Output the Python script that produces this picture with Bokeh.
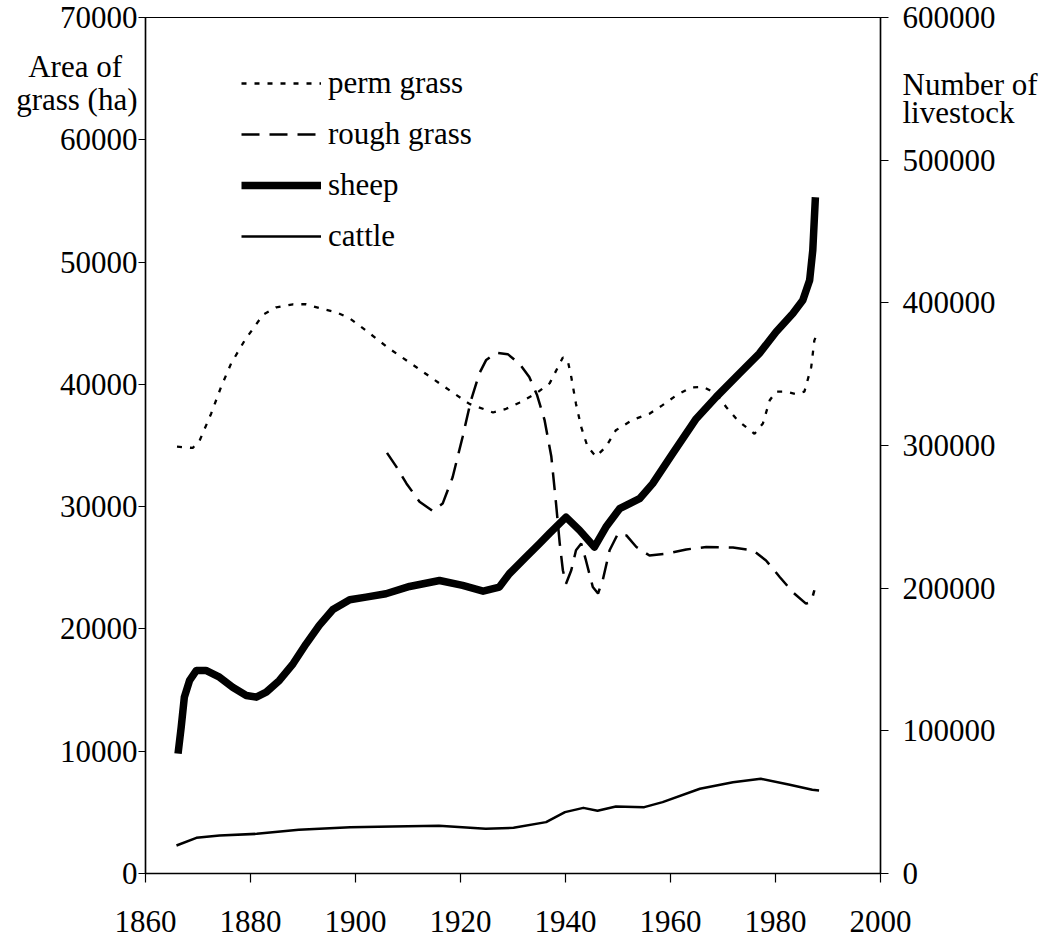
from bokeh.plotting import figure
from bokeh.models import (Range1d, LinearAxis, FixedTicker, NumeralTickFormatter,
                          Legend, LegendItem)
from bokeh.embed import file_html
from bokeh.resources import INLINE

# ---------------- data ----------------
x_ticks = [1860, 1880, 1900, 1920, 1940, 1960, 1980, 2000]
left_ticks = [0, 10000, 20000, 30000, 40000, 50000, 60000, 70000]
right_ticks = [0, 100000, 200000, 300000, 400000, 500000, 600000]

perm_years = [1866.0, 1869.0, 1870.3, 1872.5, 1874.4, 1876.3, 1878.9, 1882.4, 1884.9,
              1888.1, 1890.6, 1893.8, 1896.3, 1898.9, 1901.4, 1906.5, 1911.6, 1916.6,
              1921.7, 1926.2, 1928.7, 1931.2, 1934.4, 1937.0, 1939.5, 1940.4, 1941.1,
              1942.0, 1943.0, 1944.2, 1945.8, 1947.7, 1949.6, 1952.8, 1956.0, 1958.5,
              1961.1, 1963.9, 1966.2, 1968.7, 1970.6, 1972.8, 1976.0, 1977.6, 1978.9,
              1980.1, 1982.0, 1983.9, 1985.5, 1986.8, 1987.4, 1988.1]
perm_grass = [34900, 34800, 35400, 37600, 39800, 41700, 43600, 45700, 46300,
              46550, 46550, 46150, 45900, 45400, 44600, 42900, 41400, 39900,
              38400, 37700, 38000, 38500, 39250, 40100, 42200, 42000, 40600,
              38400, 36500, 34900, 34100, 34900, 36250, 37100, 37600, 38300,
              39100, 39750, 39800, 39250, 38150, 37050, 35950, 36800, 38700,
              39400, 39400, 39200, 39400, 41400, 43600, 44300]

rough_years = [1906.0, 1907.8, 1909.7, 1912.2, 1914.7, 1916.6, 1918.5, 1920.4, 1922.0,
               1923.6, 1924.9, 1926.8, 1929.0, 1931.2, 1933.1, 1934.6, 1936.0, 1937.3,
               1938.2, 1938.9, 1939.5, 1940.1, 1941.1, 1942.0, 1943.0, 1943.9, 1945.2,
               1946.2, 1947.1, 1948.4, 1950.0, 1951.6, 1953.5, 1956.0, 1959.2, 1963.0,
               1966.8, 1971.9, 1975.7, 1978.2, 1980.8, 1983.3, 1985.8, 1986.8, 1987.4]
rough_grass = [34400, 33250, 31900, 30400, 29650, 30250, 32400, 35700, 38700,
               40900, 42000, 42580, 42470, 41700, 40600, 39100, 37100, 34100,
               30250, 27000, 24800, 23700, 24800, 26430, 26980, 25600, 23430,
               22900, 24000, 26430, 27800, 27650, 26700, 26000, 26150, 26500,
               26700, 26650, 26430, 25600, 24250, 23000, 22070, 22200, 23160]

sheep_years = [1866.2, 1866.8, 1867.4, 1868.4, 1869.7, 1871.5, 1874.1, 1876.6, 1879.2,
               1881.1, 1883.0, 1885.5, 1888.1, 1890.6, 1893.1, 1895.7, 1898.9, 1902.0,
               1905.8, 1910.3, 1916.0, 1920.4, 1924.3, 1927.4, 1929.3, 1932.5, 1935.0,
               1937.0, 1940.1, 1942.7, 1945.5, 1947.7, 1950.3, 1954.1, 1956.6, 1960.4,
               1964.9, 1968.7, 1973.1, 1976.9, 1980.1, 1983.3, 1985.2, 1986.5, 1987.1,
               1987.6]
sheep = [84000, 102600, 123600, 135300, 142300, 142300, 137600, 130600, 124800,
         123600, 127100, 135300, 147000, 161000, 173900, 185000, 191900, 193700,
         196100, 201200, 205400, 201900, 197900, 200800, 210100, 222000, 231000,
         238500, 249800, 240500, 228800, 242800, 255700, 262700, 273300, 294300,
         318800, 334000, 350400, 364400, 379600, 392500, 401800, 415800, 436800,
         474000]

cattle_years = [1865.9, 1869.7, 1874.1, 1881.2, 1889.2, 1899.0, 1907.0, 1915.9, 1924.8,
                1930.1, 1936.3, 1939.9, 1943.4, 1946.1, 1949.6, 1955.0, 1958.5, 1965.6,
                1971.9, 1977.2, 1982.5, 1987.0, 1988.3]
cattle = [19600, 25000, 26600, 27800, 30600, 32500, 33000, 33400, 31300,
          32000, 36000, 43000, 46000, 44000, 47000, 46500, 50000, 59400,
          64000, 66400, 62400, 58700, 58200]

series_labels = ["perm grass", "rough grass", "sheep", "cattle"]
left_title = ["Area of", "grass (ha)"]
right_title = ["Number of", "livestock"]

# ---------------- figure ----------------
FONT = "Liberation Serif"
FS = "31px"
NBSP = "\u00a0"

# vertical spots (in each axis' units) where the two-line axis titles sit
LEFT_TITLE_AT = [65960, 63260]
RIGHT_TITLE_AT = [553000, 533400]

p = figure(width=1051, height=945, output_backend="svg", toolbar_location=None,
           x_range=Range1d(1860, 2000), y_range=Range1d(0, 70000),
           y_axis_location=None,
           min_border_left=145, min_border_right=171, min_border_top=17,
           min_border_bottom=72)
p.extra_y_ranges = {"right": Range1d(0, 600000)}
p.xgrid.visible = False
p.ygrid.visible = False
p.outline_line_color = "black"
p.outline_line_width = 1.2
p.background_fill_color = "white"
p.border_fill_color = "white"


def style(ax):
    ax.axis_line_color = "black"
    ax.axis_line_width = 1.5
    ax.major_tick_line_color = "black"
    ax.major_tick_line_width = 1.2
    ax.minor_tick_line_color = None
    ax.major_tick_in = 0
    ax.major_label_text_font = FONT
    ax.major_label_text_font_size = FS
    ax.major_label_text_color = "black"


xa = p.xaxis[0]
xa.ticker = FixedTicker(ticks=x_ticks)
style(xa)
xa.major_tick_out = 9
xa.major_label_standoff = 28

# left: inner axis draws line + tick marks, outer axis carries the labels and title
ya_ticks = LinearAxis(ticker=FixedTicker(ticks=left_ticks),
                      major_label_overrides={t: "" for t in left_ticks})
style(ya_ticks)
ya_ticks.major_tick_out = 7
ya_ticks.major_label_standoff = 0
p.add_layout(ya_ticks, "left")

ya_labels = LinearAxis(ticker=FixedTicker(ticks=left_ticks + LEFT_TITLE_AT),
                       formatter=NumeralTickFormatter(format="0"),
                       major_label_overrides={LEFT_TITLE_AT[0]: left_title[0] + NBSP + NBSP,
                                              LEFT_TITLE_AT[1]: left_title[1]})
style(ya_labels)
ya_labels.axis_line_color = None
ya_labels.major_tick_line_color = None
ya_labels.major_tick_out = 0
ya_labels.major_label_standoff = 1
p.add_layout(ya_labels, "left")

# right: same idea on the livestock scale
ra_ticks = LinearAxis(y_range_name="right", ticker=FixedTicker(ticks=right_ticks),
                      major_label_overrides={t: "" for t in right_ticks})
style(ra_ticks)
ra_ticks.major_tick_out = 8
ra_ticks.major_label_standoff = 0
p.add_layout(ra_ticks, "right")

ra_labels = LinearAxis(y_range_name="right",
                       ticker=FixedTicker(ticks=right_ticks + RIGHT_TITLE_AT),
                       formatter=NumeralTickFormatter(format="0"),
                       major_label_overrides={RIGHT_TITLE_AT[0]: right_title[0],
                                              RIGHT_TITLE_AT[1]: right_title[1]})
style(ra_labels)
ra_labels.axis_line_color = None
ra_labels.major_tick_line_color = None
ra_labels.major_tick_out = 0
ra_labels.major_label_standoff = 14
p.add_layout(ra_labels, "right")

r_perm = p.line(perm_years, perm_grass, line_color="black", line_width=2.3,
                line_dash="5 8")
r_rough = p.line(rough_years, rough_grass, line_color="black", line_width=2.5,
                 line_dash="18 10")
r_sheep = p.line(sheep_years, sheep, line_color="black", line_width=7.5,
                 y_range_name="right", line_join="round", line_cap="butt")
r_cattle = p.line(cattle_years, cattle, line_color="black", line_width=2.5,
                  y_range_name="right", line_join="round")

legend = Legend(items=[LegendItem(label=series_labels[0], renderers=[r_perm]),
                       LegendItem(label=series_labels[1], renderers=[r_rough]),
                       LegendItem(label=series_labels[2], renderers=[r_sheep]),
                       LegendItem(label=series_labels[3], renderers=[r_cattle])],
                location=(96, 619), glyph_width=80, glyph_height=36,
                label_standoff=7, spacing=15, padding=0, margin=0,
                border_line_color=None, background_fill_alpha=0,
                label_text_font=FONT, label_text_font_size=FS,
                label_text_color="black")
p.add_layout(legend)

open("out.html", "w").write(file_html(p, INLINE))
